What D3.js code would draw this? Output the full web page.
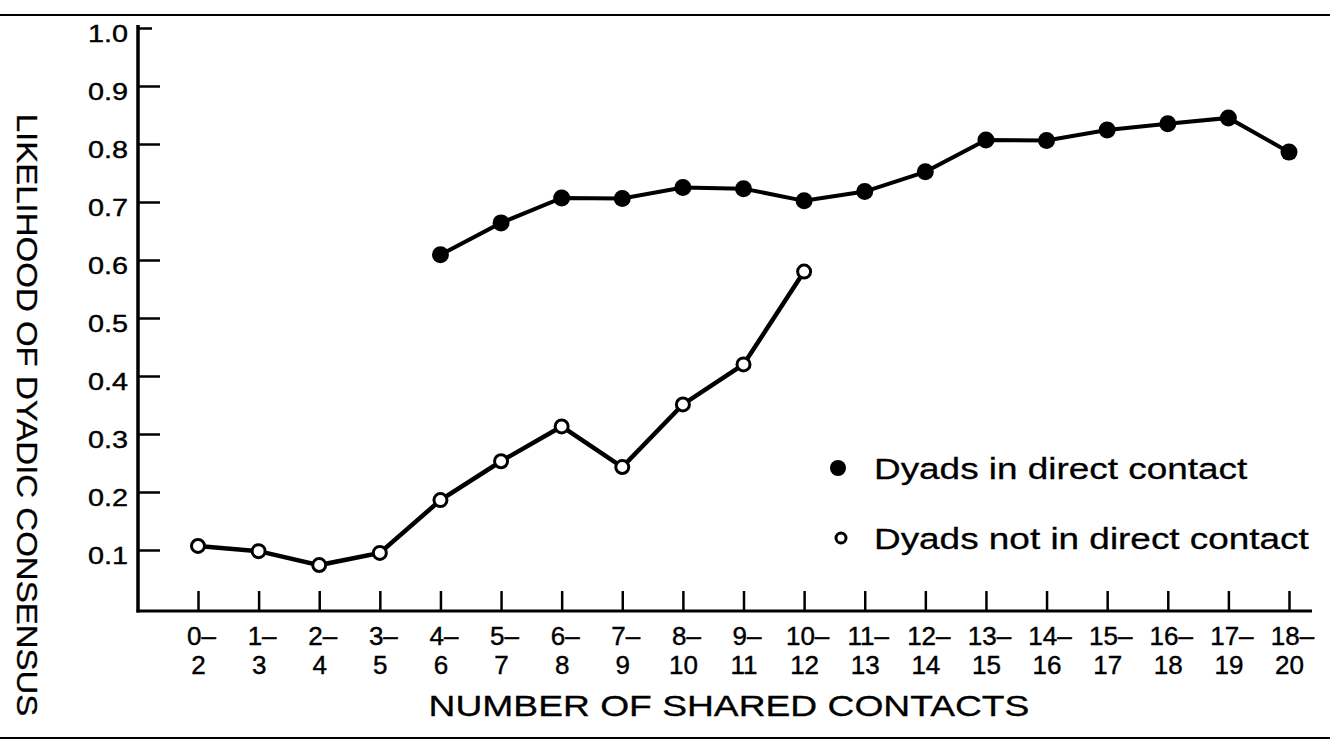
<!DOCTYPE html>
<html>
<head>
<meta charset="utf-8">
<script src="https://cdn.jsdelivr.net/npm/d3@7"></script>
<style>
  body { margin: 0; background: #fff; }
  svg { display: block; font-family: "Liberation Sans", Arial, sans-serif; }
</style>
</head>
<body>
<svg width="1330" height="750"></svg>
<script>
const categories = ["0-2","1-3","2-4","3-5","4-6","5-7","6-8","7-9","8-10","9-11","10-12",
  "11-13","12-14","13-15","14-16","15-17","16-18","17-19","18-20"];

// dyads not in direct contact (open circles), 0-2 .. 10-12
const notDirectCats = categories.slice(0, 11);
const notDirect = [0.107, 0.098, 0.074, 0.095, 0.186, 0.253, 0.313, 0.243, 0.351, 0.42, 0.58];

// dyads in direct contact (filled circles), 4-6 .. 18-20
const directCats = categories.slice(4);
const direct = [0.609, 0.664, 0.707, 0.706, 0.725, 0.723, 0.702, 0.718, 0.752, 0.807, 0.806, 0.824, 0.835, 0.845, 0.786];

const yTicks = [0.1, 0.2, 0.3, 0.4, 0.5, 0.6, 0.7, 0.8, 0.9, 1.0];

const FONT = "'Liberation Sans', Arial, sans-serif";
const svg = d3.select("svg");

const x = d3.scalePoint().domain(categories).range([198, 1289]);
const y = d3.scaleLinear().domain([0, 1]).range([608, 28]);

// the scanned type is wider than plain Arial
function stretch(sel, k) {
  sel.each(function() {
    const w = this.getComputedTextLength();
    d3.select(this).attr("textLength", w * k).attr("lengthAdjust", "spacingAndGlyphs");
  });
}

// scan page rules
svg.append("line").attr("x1", 0).attr("x2", 1330).attr("y1", 15).attr("y2", 15)
  .attr("stroke", "#000").attr("stroke-width", 2);
svg.append("line").attr("x1", 0).attr("x2", 1330).attr("y1", 738).attr("y2", 738)
  .attr("stroke", "#000").attr("stroke-width", 2);

// axis lines
const x0 = 138, yBase = 611;
svg.append("line").attr("x1", x0).attr("x2", x0).attr("y1", 25).attr("y2", yBase + 1.5)
  .attr("stroke", "#000").attr("stroke-width", 3.5);
svg.append("line").attr("x1", x0 - 1.5).attr("x2", 1312).attr("y1", yBase).attr("y2", yBase)
  .attr("stroke", "#000").attr("stroke-width", 3);

// y axis
const yAxis = d3.axisLeft(y).tickValues(yTicks).tickFormat(d3.format(".1f"))
  .tickSizeInner(-22).tickSizeOuter(0).tickPadding(10);
const gy = svg.append("g").attr("transform", `translate(${x0},0)`).call(yAxis)
  .attr("font-family", FONT).attr("font-size", 24);
gy.select(".domain").remove();
gy.selectAll(".tick line").attr("stroke", "#000").attr("stroke-width", 2.5);
gy.selectAll(".tick line").filter(d => d === 1).attr("x2", 14);
gy.selectAll(".tick text").attr("dy", "0.55em").attr("fill", "#000")
  .attr("stroke", "#000").attr("stroke-width", 0.4);
stretch(gy.selectAll(".tick text"), 1.2);

// x axis
const xAxis = d3.axisBottom(x).tickSizeInner(-20).tickSizeOuter(0).tickFormat("");
const gx = svg.append("g").attr("transform", `translate(0,${yBase})`).call(xAxis)
  .attr("font-family", FONT).attr("font-size", 25);
gx.select(".domain").remove();
gx.selectAll(".tick line").attr("stroke", "#000").attr("stroke-width", 2.5);
gx.selectAll(".tick text")
  .attr("y", 0).attr("dy", null).attr("fill", "#000")
  .attr("stroke", "#000").attr("stroke-width", 0.4)
  .each(function(d) {
    const parts = d.split("-");
    const t = d3.select(this);
    t.append("tspan").attr("x", 3).attr("y", 34).text(parts[0] + "\u2012");
    t.append("tspan").attr("x", 0).attr("y", 63).text(parts[1]);
  });
stretch(gx.selectAll(".tick tspan"), 1.04);

// axis titles
const xTitle = svg.append("text").attr("x", 729).attr("y", 716).attr("text-anchor", "middle")
  .attr("font-family", FONT).attr("font-size", 30).attr("fill", "#000")
  .attr("stroke", "#000").attr("stroke-width", 0.3)
  .text("NUMBER OF SHARED CONTACTS");
stretch(xTitle, 1.24);
const yTitle = svg.append("text").attr("transform", "translate(17,415) rotate(90)")
  .attr("text-anchor", "middle")
  .attr("font-family", FONT).attr("font-size", 30).attr("fill", "#000")
  .attr("stroke", "#000").attr("stroke-width", 0.3)
  .text("LIKELIHOOD OF DYADIC CONSENSUS");
stretch(yTitle, 1.1);

// lines
const line = d3.line().x(d => x(d[0])).y(d => y(d[1]));
const directData = directCats.map((c, i) => [c, direct[i]]);
const notDirectData = notDirectCats.map((c, i) => [c, notDirect[i]]);

svg.append("path").datum(directData).attr("d", line)
  .attr("fill", "none").attr("stroke", "#000").attr("stroke-width", 4);
svg.append("path").datum(notDirectData).attr("d", line)
  .attr("fill", "none").attr("stroke", "#000").attr("stroke-width", 4.5);

svg.selectAll(".pt-direct").data(directData).join("circle").attr("class", "pt-direct")
  .attr("cx", d => x(d[0])).attr("cy", d => y(d[1])).attr("r", 8.5).attr("fill", "#000");
svg.selectAll(".pt-open").data(notDirectData).join("circle").attr("class", "pt-open")
  .attr("cx", d => x(d[0])).attr("cy", d => y(d[1])).attr("r", 6.5)
  .attr("fill", "#fff").attr("stroke", "#000").attr("stroke-width", 3);

// legend
const legend = svg.append("g").attr("font-family", FONT).attr("font-size", 30);
legend.append("circle").attr("cx", 838).attr("cy", 468).attr("r", 8).attr("fill", "#000");
legend.append("circle").attr("cx", 841).attr("cy", 538).attr("r", 5).attr("fill", "#fff")
  .attr("stroke", "#000").attr("stroke-width", 3);
const legendText = legend.selectAll("text")
  .data([["Dyads in direct contact", 479], ["Dyads not in direct contact", 549]])
  .join("text").attr("x", 874).attr("y", d => d[1])
  .attr("fill", "#000").attr("stroke", "#000").attr("stroke-width", 0.3)
  .text(d => d[0]);
stretch(legendText, 1.23);
</script>
</body>
</html>
